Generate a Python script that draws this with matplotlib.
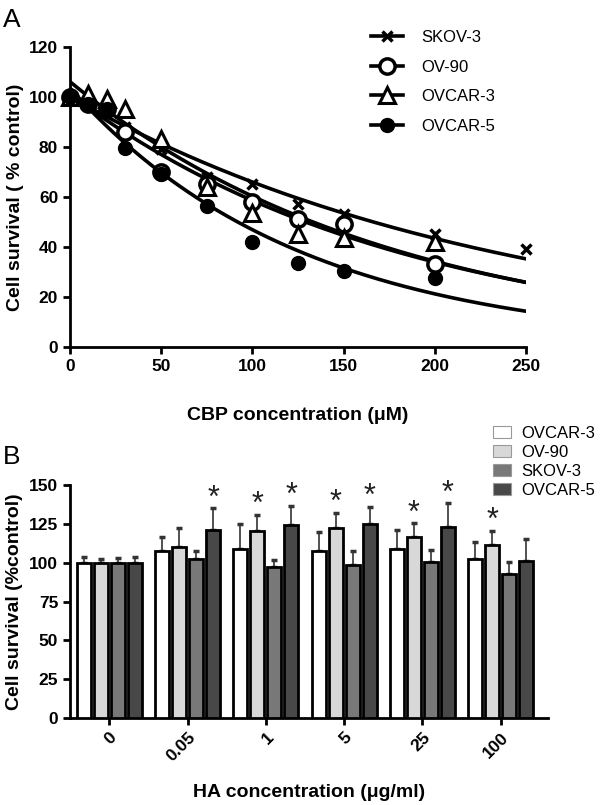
import numpy as np
import matplotlib
matplotlib.use("Agg")
import matplotlib.pyplot as plt
from matplotlib.patches import Patch
from matplotlib.lines import Line2D

plt.rcParams['font.family'] = ['Liberation Sans', 'DejaVu Sans']

# ---- panel A data: CBP dose response ----
conc = [0, 10, 20, 30, 50, 75, 100, 125, 150, 200]
skov3_a = [100, 98, 96, 88, 79, 68, 65, 57, 53, 45]
skov3_x250 = 39
ov90_a = [100, 97, 95, 86, 70, 65, 58, 51, 49, 33]
ovcar3_a = [100, 101, 99, 95, 83, 64, 53.5, 45, 43.5, 42]
ovcar5_a = [100, 97, 95, 79.5, 69, 56.5, 42, 33.5, 30.5, 27.5]

# ---- panel B data: HA ----
ha_labels = ['0', '0.05', '1', '5', '25', '100']
lines_b = ['OVCAR-3', 'OV-90', 'SKOV-3', 'OVCAR-5']
vals_b = {
    'OVCAR-3': [100, 107.5, 109, 107.5, 108.8, 102.2],
    'OV-90':   [100, 110, 120.6, 122.1, 116.3, 111.4],
    'SKOV-3':  [100, 102.4, 97.4, 98.3, 100.4, 92.7],
    'OVCAR-5': [100, 121, 124, 124.9, 123.2, 100.9],
}
err_b = {
    'OVCAR-3': [3.5, 9, 16, 12, 12.5, 11.3],
    'OV-90':   [2.5, 12.4, 10.3, 10, 9, 9.2],
    'SKOV-3':  [3, 5, 4.3, 9, 7.8, 8],
    'OVCAR-5': [3.5, 14, 12.7, 11, 15, 14.4],
}
sig_b = {
    'OVCAR-3': [0, 0, 0, 0, 0, 0],
    'OV-90':   [0, 0, 1, 1, 1, 1],
    'SKOV-3':  [0, 0, 0, 0, 0, 0],
    'OVCAR-5': [0, 1, 1, 1, 1, 0],
}
colors_b = {'OVCAR-3': 'white', 'OV-90': '#d8d8d8',
            'SKOV-3': '#787878', 'OVCAR-5': '#484848'}


def fit_decay(x, y):
    # exponential decay fit, log-linear weighted by y
    x = np.asarray(x, float)
    y = np.asarray(y, float)
    k, b = np.polyfit(x, np.log(y), 1, w=y)
    return np.exp(b), k


def style_axes(ax):
    for s in ['top', 'right']:
        ax.spines[s].set_visible(False)
    for s in ['left', 'bottom']:
        ax.spines[s].set_linewidth(2)
    ax.tick_params(width=2, length=5, labelsize=12.5)
    for t in ax.get_xticklabels() + ax.get_yticklabels():
        t.set_fontweight('bold')


fig = plt.figure(figsize=(6, 8.05), dpi=100)

# ---------------- panel A ----------------
ax1 = fig.add_axes([0.1167, 0.569, 0.76, 0.3727])
xs = np.linspace(0, 250, 300)
series = [
    ('SKOV-3', conc + [250], skov3_a + [skov3_x250],
     dict(marker='x', ms=7, mew=2.5, mfc='black', mec='black')),
    ('OV-90', conc, ov90_a,
     dict(marker='o', ms=11, mew=2.5, mfc='white', mec='black')),
    ('OVCAR-3', conc, ovcar3_a,
     dict(marker='^', ms=12, mew=2.2, mfc='white', mec='black')),
    ('OVCAR-5', conc, ovcar5_a,
     dict(marker='o', ms=10, mew=1, mfc='black', mec='black')),
]
handles = []
for name, x, y, mk in series:
    a, k = fit_decay(x, y)
    ax1.plot(xs, a * np.exp(k * xs), color='black', lw=2.6, zorder=2)
    ax1.plot(x, y, ls='none', clip_on=False, zorder=3, **mk)
    handles.append(Line2D([0], [0], color='black', lw=2.6, **mk))

ax1.set_xlim(0, 250)
ax1.set_ylim(0, 120)
ax1.set_xticks([0, 50, 100, 150, 200, 250])
ax1.set_yticks([0, 20, 40, 60, 80, 100, 120])
style_axes(ax1)
ax1.set_xlabel('CBP concentration (μM)', fontsize=14, fontweight='bold', labelpad=24)
ax1.set_ylabel('Cell survival ( % control)', fontsize=14, fontweight='bold', labelpad=4)
fig.legend(handles, [s[0] for s in series], loc='upper left',
           bbox_to_anchor=(371 / 600, 1 - 30 / 805), frameon=False,
           fontsize=12, handlelength=1.9, handletextpad=1.1,
           labelspacing=0.88, borderpad=0, borderaxespad=0)
fig.text(0.005, 0.99, 'A', fontsize=19, va='top', ha='left')

# ---------------- panel B ----------------
ax2 = fig.add_axes([0.1167, 0.108, 0.7963, 0.2895])
xg = np.arange(len(ha_labels))
pitch = 0.217
width = 0.18
for i, name in enumerate(lines_b):
    pos = xg + (i - 1.5) * pitch
    v = np.array(vals_b[name])
    e = np.array(err_b[name])
    ax2.bar(pos, v, width=width, color=colors_b[name], edgecolor='black',
            linewidth=2, zorder=3, label=name)
    ax2.errorbar(pos, v, yerr=[np.zeros_like(e), e], fmt='none',
                 ecolor='#333333', elinewidth=1.2, capsize=2.5, capthick=2.5,
                 zorder=2)
    for p, vv, ee, s in zip(pos, v, e, sig_b[name]):
        if s:
            ax2.text(p, vv + ee - 3.5, '*', ha='center', va='bottom',
                     fontsize=22, color='#222222')

ax2.set_xlim(-0.5, 5.6)
ax2.set_ylim(0, 150)
ax2.set_yticks([0, 25, 50, 75, 100, 125, 150])
ax2.set_xticks(xg)
ax2.set_xticklabels(ha_labels, rotation=45, ha='right', rotation_mode='anchor')
style_axes(ax2)
ax2.set_xlabel('HA concentration (μg/ml)', fontsize=14, fontweight='bold', labelpad=14)
ax2.set_ylabel('Cell survival (%control)', fontsize=14, fontweight='bold', labelpad=4)
hb = [Patch(facecolor=colors_b[n], edgecolor='#999999', lw=0.8) for n in lines_b]
fig.legend(hb, lines_b, loc='upper left', bbox_to_anchor=(493 / 600, 1 - 426 / 805),
           frameon=False, fontsize=12, handlelength=1.1, handleheight=0.7,
           handletextpad=0.6, labelspacing=0.24, borderpad=0, borderaxespad=0)
fig.text(0.005, 1 - 445 / 805, 'B', fontsize=19, va='top', ha='left')

fig.savefig('out.png', dpi=100)
